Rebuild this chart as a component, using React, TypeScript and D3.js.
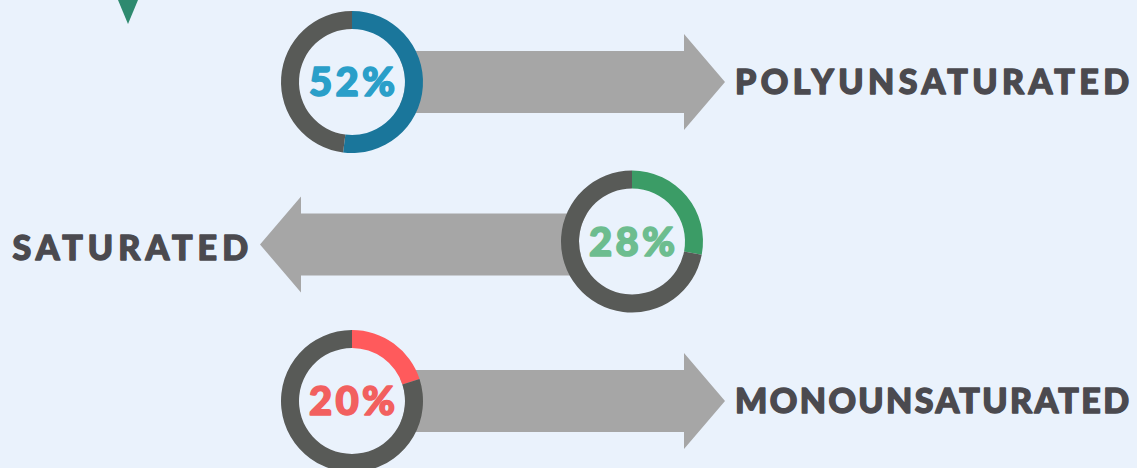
import * as d3 from "d3";

const categories = ["POLYUNSATURATED", "SATURATED", "MONOUNSATURATED"];
const shares = [52, 28, 20];
const arcColors = ["#1a769b", "#3b9c66", "#ff5a5c"];
const textColors = ["#2a9fc9", "#6dbd8f", "#f2605f"];

const W = 1137;
const H = 468;
const bg = "#eaf2fc";
const ringGray = "#585a57";
const arrowGray = "#a6a6a6";
const labelColor = "#4b4a4f";
const font = "Lato, 'Open Sans', 'DejaVu Sans', sans-serif";

const outerR = 71;
const innerR = 53;

const y = d3.scalePoint<string>().domain(categories).range([82, 401]);
// donut x for arrows pointing right / left
const donutX = d3.scaleOrdinal<string, number>().domain(["right", "left"]).range([352, 632]);

const pie = d3
  .pie<number>()
  .sort(null)
  .value((d) => d);
const arc = d3.arc<d3.PieArcDatum<number>>().innerRadius(innerR).outerRadius(outerR);

const arrowPath = (dir: string, cy: number) => {
  const shaftH = 62;
  const headH = 96;
  const headL = 41;
  if (dir === "right") {
    const x0 = 400;
    const xTip = 725;
    const xb = xTip - headL;
    return `M${x0},${cy - shaftH / 2}H${xb}V${cy - headH / 2}L${xTip},${cy}L${xb},${cy + headH / 2}V${cy + shaftH / 2}H${x0}Z`;
  }
  const x0 = 590;
  const xTip = 260;
  const xb = xTip + headL;
  return `M${x0},${cy - shaftH / 2}H${xb}V${cy - headH / 2}L${xTip},${cy}L${xb},${cy + headH / 2}V${cy + shaftH / 2}H${x0}Z`;
};

// rough label width: the reference face is wide, ~26.5px per letter
const labelWidth = (s: string) => s.length * 26.4 - 2;

export default function App() {
  return (
    <svg
      width={W}
      height={H}
      style={{ position: "absolute", left: 0, top: 0, display: "block" }}
    >
      <rect width={W} height={H} fill={bg} />
      <path d="M118,0L138,0L128,24Z" fill="#2e8a6f" />
      {categories.map((c, i) => {
        const dir = i % 2 === 0 ? "right" : "left";
        const cy = y(c)!;
        const cx = donutX(dir);
        const slices = pie([shares[i], 100 - shares[i]]);
        return (
          <g key={c}>
            <path d={arrowPath(dir, cy + (i === 1 ? 3 : 0))} fill={arrowGray} />
            <g transform={`translate(${cx},${cy})`}>
              <circle r={innerR} fill={bg} />
              {slices.map((s, j) => (
                <path key={j} d={arc(s) ?? ""} fill={j === 0 ? arcColors[i] : ringGray} />
              ))}
              <text
                x={-43}
                y={-1}
                dominantBaseline="central"
                fontFamily={font}
                fontWeight={900}
                fontSize={40}
                textLength={86}
                lengthAdjust="spacing"
                fill={textColors[i]}
                stroke={textColors[i]}
                strokeWidth={1.6}
                strokeLinejoin="round"
              >
                {shares[i]}%
              </text>
            </g>
            <text
              x={dir === "right" ? 735 : 248 - labelWidth(c)}
              y={cy + (i === 1 ? 5 : -2)}
              dominantBaseline="central"
              fontFamily={font}
              fontWeight={900}
              fontSize={34}
              textLength={labelWidth(c)}
              lengthAdjust="spacing"
              fill={labelColor}
              stroke={labelColor}
              strokeWidth={1.4}
              strokeLinejoin="round"
            >
              {c}
            </text>
          </g>
        );
      })}
    </svg>
  );
}
